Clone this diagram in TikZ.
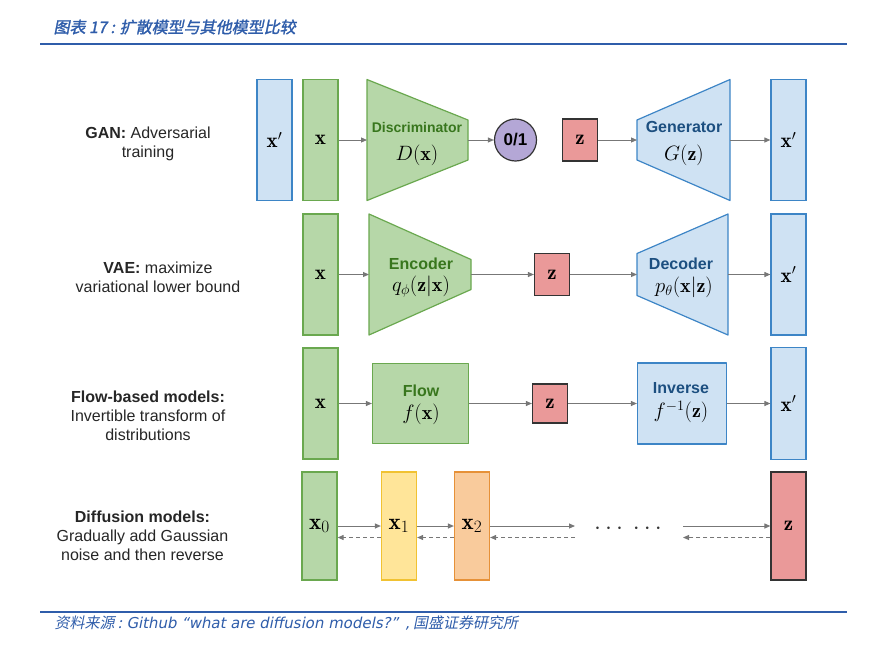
\documentclass[tikz,border=0pt]{standalone}
\usepackage{fontspec}
\setsansfont{Liberation Sans}
\newfontfamily\cjk[FakeSlant=0.2]{Noto Sans CJK SC}
\newfontfamily\cjkbold[FakeSlant=0.2,FakeBold=1.6]{Noto Sans CJK SC}
\newfontfamily\srclatin[FakeSlant=0.2]{DejaVu Sans}
\usetikzlibrary{arrows.meta}
\definecolor{reportblue}{HTML}{2F5DAA}
\definecolor{greenfill}{HTML}{B6D7A8}
\definecolor{greenline}{HTML}{6AA84F}
\definecolor{greentext}{HTML}{38761D}
\definecolor{bluefill}{HTML}{CFE2F3}
\definecolor{blueline}{HTML}{3D85C6}
\definecolor{bluetext}{HTML}{1C4F80}
\definecolor{redfill}{HTML}{EA9999}
\definecolor{purplefill}{HTML}{B4A7D6}
\definecolor{yellowfill}{HTML}{FFE599}
\definecolor{yellowline}{HTML}{F1C232}
\definecolor{orangefill}{HTML}{F9CB9C}
\definecolor{orangeline}{HTML}{E69138}
\definecolor{edgegray}{HTML}{333333}
\definecolor{arrowgray}{HTML}{777777}

\begin{document}
\begin{tikzpicture}[x=1pt, y=-1pt,
        vec/.style={draw, line width=1.2pt, inner sep=0pt, minimum width=35pt, font=\fontsize{21}{21}\selectfont},
        greenvec/.style={vec, fill=greenfill, draw=greenline},
        bluevec/.style={vec, fill=bluefill, draw=blueline},
        latent/.style={draw=edgegray, fill=redfill, line width=1.2pt, inner sep=0pt, minimum width=35pt, font=\fontsize{21}{21}\selectfont},
        netgreen/.style={fill=greenfill, draw=greenline, line width=1.2pt, line join=round},
        netblue/.style={fill=bluefill, draw=blueline, line width=1.2pt, line join=round},
        netname/.style={font=\sffamily\bfseries\fontsize{16}{16}\selectfont},
        netfn/.style={font=\fontsize{20}{20}\selectfont},
        model/.style={align=center, text=black!85, font=\sffamily\fontsize{16}{19}\selectfont},
        fwd/.style={draw=arrowgray, line width=1pt, -{Triangle[length=6pt,width=5pt]}},
        back/.style={fwd, dash pattern=on 4pt off 3pt}
    ]
      \useasboundingbox (0,0) rectangle (888,654);

      % Title and rules
      \node[anchor=west, text=reportblue, font=\cjkbold\fontsize{16}{16}\selectfont] (title) at (50,27) {图表 17 : 扩散模型与其他模型比较};
      \draw[reportblue, line width=2pt] (40,44) -- (847,44);
      \draw[reportblue, line width=1.6pt] (40,612) -- (847,612);
      \node[anchor=west, text=reportblue, font=\cjk\fontsize{15}{15}\selectfont] (source) at (51,623) {资料来源 : {\srclatin\fontsize{15}{15}\selectfont Github “what are diffusion models?” ,} 国盛证券研究所};

      % Model descriptions
      \node[model] (gantext) at (148,144) {\textbf{GAN:} Adversarial\\training};
      \node[model] (vaetext) at (158,277) {\textbf{VAE:} maximize\\variational lower bound};
      \node[model] (flowtext) at (148,416) {\textbf{Flow-based models:}\\Invertible transform of\\distributions};
      \node[model] (difftext) at (142.5,536) {\textbf{Diffusion models:}\\Gradually add Gaussian\\noise and then reverse};

      % GAN
      \node[bluevec, minimum height=121pt] (xpg) at (274.5,140) {$\mathbf{x}'$};
      \node[greenvec, minimum height=121pt] (xg) at (320.5,140) {$\mathbf{x}$};
      \draw[netgreen] (367,79.5) -- (468,120) -- (468,160) -- (367,200.5) -- cycle;
      \coordinate (disc-in) at (367,140);
      \coordinate (disc-out) at (468,140);
      \node[netname, text=greentext, font=\sffamily\bfseries\fontsize{14}{14}\selectfont] (disc) at (417,127) {Discriminator};
      \node[netfn] (discfn) at (417,155) {$D(\mathbf{x})$};
      \node[circle, draw=edgegray, fill=purplefill, line width=1.2pt, minimum size=42pt, inner sep=0pt, font=\sffamily\bfseries\fontsize{17}{17}\selectfont] (label) at (515.5,140) {0/1};
      \node[latent, minimum height=42pt] (zg) at (580,140) {$\mathbf{z}$};
      \draw[netblue] (637,120) -- (730,79.5) -- (730,200.5) -- (637,160) -- cycle;
      \coordinate (gen-in) at (637,140);
      \coordinate (gen-out) at (730,140);
      \node[netname, text=bluetext] (gen) at (684,127) {Generator};
      \node[netfn] (genfn) at (684,155) {$G(\mathbf{z})$};
      \node[bluevec, minimum height=121pt] (xpg2) at (788.5,140) {$\mathbf{x}'$};
      \draw[fwd] (xg.east) -- (disc-in);
      \draw[fwd] (disc-out) -- (label.west);
      \draw[fwd] (zg.east) -- (gen-in);
      \draw[fwd] (gen-out) -- (xpg2.west);

      % VAE
      \node[greenvec, minimum height=121pt] (xv) at (320.5,274.5) {$\mathbf{x}$};
      \draw[netgreen] (369,214) -- (471,259.5) -- (471,289.5) -- (369,335) -- cycle;
      \coordinate (enc-in) at (369,274.5);
      \coordinate (enc-out) at (471,274.5);
      \node[netname, text=greentext] (enc) at (421,263.5) {Encoder};
      \node[netfn] (encfn) at (421,287) {$q_\phi(\mathbf{z}|\mathbf{x})$};
      \node[latent, minimum height=42pt] (zv) at (552,274.5) {$\mathbf{z}$};
      \draw[netblue] (637,253.5) -- (728,214) -- (728,335) -- (637,295.5) -- cycle;
      \coordinate (dec-in) at (637,274.5);
      \coordinate (dec-out) at (728,274.5);
      \node[netname, text=bluetext] (dec) at (681,263.5) {Decoder};
      \node[netfn] (decfn) at (684,287) {$p_\theta(\mathbf{x}|\mathbf{z})$};
      \node[bluevec, minimum height=121pt] (xpv) at (788.5,274.5) {$\mathbf{x}'$};
      \draw[fwd] (xv.east) -- (enc-in);
      \draw[fwd] (enc-out) -- (zv.west);
      \draw[fwd] (zv.east) -- (dec-in);
      \draw[fwd] (dec-out) -- (xpv.west);

      % Flow-based
      \node[greenvec, minimum height=111pt] (xf) at (320.5,403.5) {$\mathbf{x}$};
      \node[netgreen, minimum width=96pt, minimum height=80pt] (flow) at (420.5,403.5) {};
      \node[netname, text=greentext] (flowname) at (421,391) {Flow};
      \node[netfn] (flowfn) at (421,414) {$f(\mathbf{x})$};
      \node[latent, minimum height=39pt] (zf) at (550,403.5) {$\mathbf{z}$};
      \node[netblue, minimum width=89pt, minimum height=81pt] (inv) at (682,403.5) {};
      \node[netname, text=bluetext] (invname) at (681,388) {Inverse};
      \node[netfn] (invfn) at (681,412) {$f^{-1}(\mathbf{z})$};
      \node[bluevec, minimum height=112pt] (xpf) at (788.5,403.5) {$\mathbf{x}'$};
      \draw[fwd] (xf.east) -- (flow.west);
      \draw[fwd] (flow.east) -- (zf.west);
      \draw[fwd] (zf.east) -- (inv.west);
      \draw[fwd] (inv.east) -- (xpf.west);

      % Diffusion
      \node[greenvec, minimum height=108pt, font=\fontsize{23}{23}\selectfont] (x0) at (319.5,526) {$\mathbf{x}_0$};
      \node[vec, fill=yellowfill, draw=yellowline, minimum height=108pt, font=\fontsize{23}{23}\selectfont] (x1) at (399,526) {$\mathbf{x}_1$};
      \node[vec, fill=orangefill, draw=orangeline, minimum height=108pt, font=\fontsize{23}{23}\selectfont] (x2) at (472,526) {$\mathbf{x}_2$};
      \node[latent, minimum height=108pt] (zd) at (788.5,526) {$\mathbf{z}$};
      \coordinate (gap-l) at (575,526);
      \coordinate (gap-r) at (683,526);
      \coordinate (gap-lb) at (575,537.5);
      \coordinate (gap-rb) at (683,537.5);
      \node[font=\fontsize{24}{24}\selectfont, text=black!80] (dots) at (628,529) {$\cdots\:\cdots$};
      \draw[fwd] (x0.east) -- (x1.west);
      \draw[fwd] (x1.east) -- (x2.west);
      \draw[fwd] (x2.east) -- (gap-l);
      \draw[fwd] (gap-r) -- (zd.west);
      \draw[back] ([yshift=-11.5pt]x1.west) -- ([yshift=-11.5pt]x0.east);
      \draw[back] ([yshift=-11.5pt]x2.west) -- ([yshift=-11.5pt]x1.east);
      \draw[back] (gap-lb) -- ([yshift=-11.5pt]x2.east);
      \draw[back] ([yshift=-11.5pt]zd.west) -- (gap-rb);
    \end{tikzpicture}
\end{document}
